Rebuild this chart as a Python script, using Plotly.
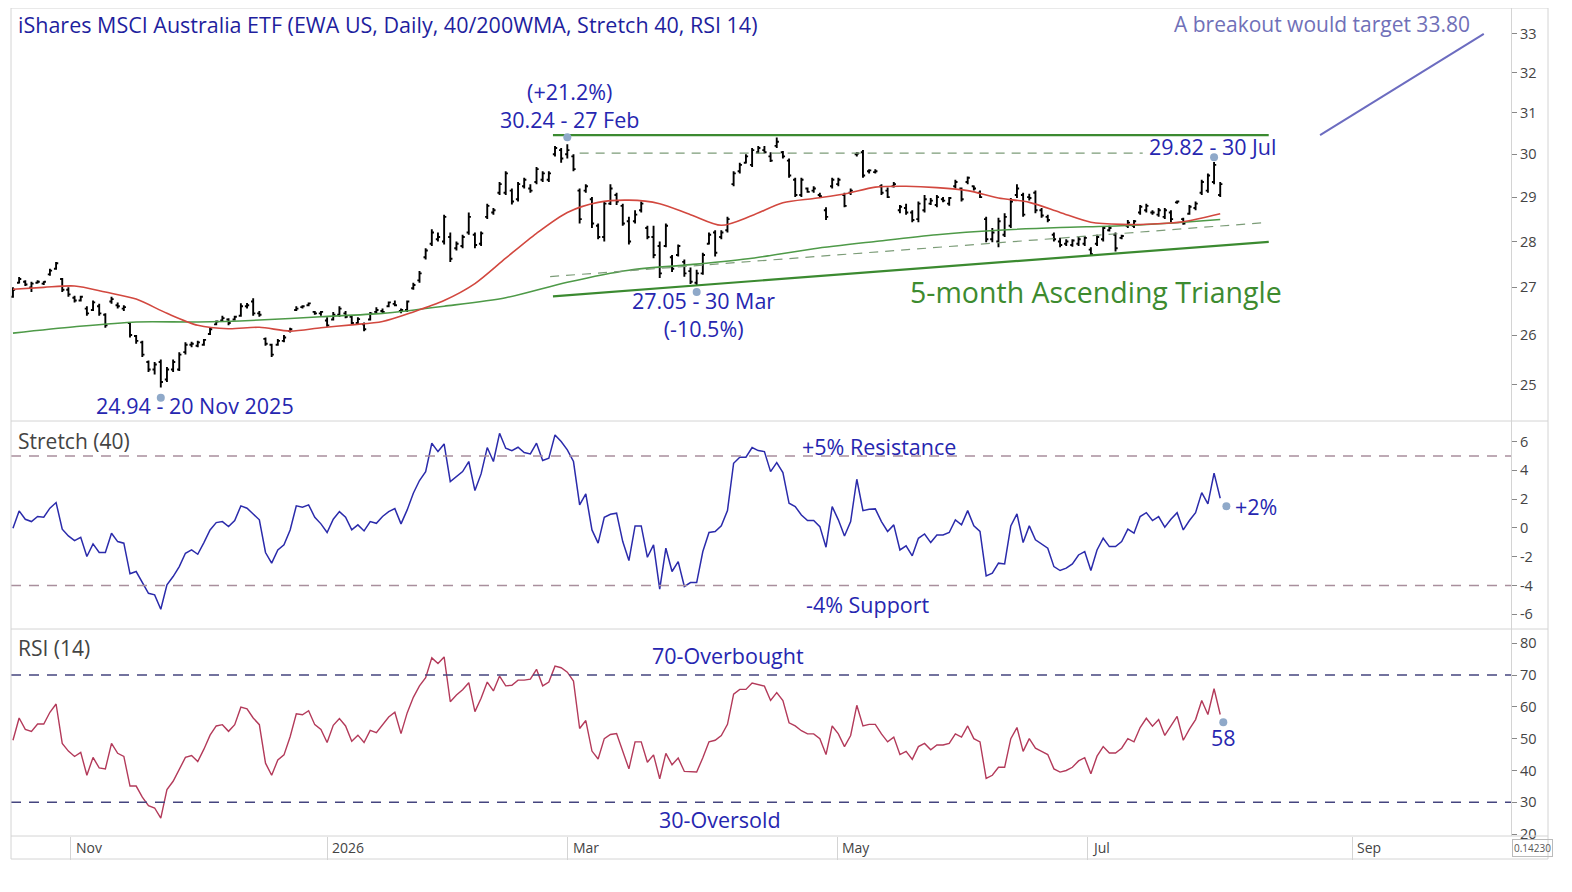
import pandas as pd
import plotly.graph_objects as go
from plotly.subplots import make_subplots

# trading calendar: weekends and US exchange holidays are skipped on the axis
HOLIDAYS = ["2025-11-27", "2025-12-25", "2026-01-01", "2026-01-19", "2026-02-16",
            "2026-04-03", "2026-05-25", "2026-06-19", "2026-07-03", "2026-09-07"]
days = pd.bdate_range("2025-10-17", "2026-07-31", freq="C", holidays=HOLIDAYS)

open_px = [
    26.8, 27.1, 27.12, 27.0, 27.1, 27.08, 27.28, 27.4, 27.18, 26.95,
    26.78, 26.72, 26.55, 26.52, 26.6, 26.42, 26.7, 26.62, 26.55, 26.25,
    25.98, 25.85, 25.45, 25.3, 25.45, 25.1, 25.3, 25.3, 25.65, 25.8,
    25.78, 25.8, 26.02, 26.22, 26.3, 26.32, 26.32, 26.4, 26.6, 26.7,
    26.45, 25.92, 25.8, 25.8, 25.88, 26.08, 26.52, 26.58, 26.62, 26.48,
    26.45, 26.3, 26.32, 26.42, 26.45, 26.38, 26.25, 26.22, 26.32, 26.48,
    26.5, 26.6, 26.65, 26.5, 26.52, 26.98, 27.15, 27.65, 27.95, 28.05,
    28.0, 28.1, 27.85, 27.9, 28.2, 28.15, 27.95, 28.55, 28.65, 29.1,
    29.1, 29.15, 28.95, 29.25, 29.2, 29.35, 29.4, 29.4, 30.0, 30.1,
    30.0, 29.95, 29.15, 29.15, 28.95, 28.35, 28.1, 28.85, 29.05, 28.8,
    28.45, 28.45, 28.7, 28.3, 28.1, 27.9, 27.9, 27.65, 27.7, 27.55,
    27.35, 27.1, 27.3, 27.95, 28.2, 28.1, 28.25, 29.3, 29.6, 29.8,
    29.75, 30.05, 30.1, 29.95, 30.2, 30.05, 29.85, 29.4, 29.05, 29.2,
    29.15, 29.05, 28.7, 29.25, 29.3, 29.05, 29.1, 30.0, 30.05, 29.6,
    29.58, 29.25, 29.15, 29.25, 28.7, 28.75, 28.65, 28.5, 28.7, 28.85,
    28.82, 28.95, 28.85, 29.25, 29.2, 29.35, 29.25, 29.1, 28.5, 28.05,
    28.0, 28.15, 28.35, 29.05, 29.05, 29.0, 29.1, 28.7, 28.55, 28.15,
    28.0, 27.95, 27.92, 27.95, 27.95, 27.82, 27.95, 28.05, 28.25, 28.15,
    28.08, 28.35, 28.35, 28.65, 28.7, 28.65, 28.6, 28.55, 28.65, 28.88,
    28.5, 28.62, 28.75, 29.1, 29.15, 29.35, 29.05,
]
high_px = [
    27.0, 27.22, 27.15, 27.12, 27.15, 27.13, 27.4, 27.55, 27.2, 27.0,
    26.82, 26.82, 26.6, 26.72, 26.65, 26.45, 26.8, 26.68, 26.62, 26.27,
    26.0, 25.88, 25.48, 25.45, 25.5, 25.35, 25.5, 25.65, 25.85, 25.86,
    25.88, 25.92, 26.15, 26.3, 26.4, 26.35, 26.4, 26.66, 26.67, 26.77,
    26.5, 25.95, 25.82, 25.92, 26.0, 26.15, 26.6, 26.62, 26.68, 26.5,
    26.5, 26.37, 26.48, 26.6, 26.5, 26.4, 26.37, 26.26, 26.48, 26.58,
    26.55, 26.7, 26.72, 26.55, 26.72, 27.1, 27.35, 27.85, 28.27, 28.2,
    28.6, 28.2, 28.0, 28.15, 28.65, 28.2, 28.22, 28.85, 28.75, 29.35,
    29.6, 29.2, 29.35, 29.45, 29.3, 29.7, 29.6, 29.6, 30.2, 30.15,
    30.24, 30.0, 29.2, 29.3, 29.0, 28.4, 28.9, 29.3, 29.1, 28.85,
    28.55, 28.7, 28.9, 28.35, 28.35, 28.0, 28.4, 27.7, 27.93, 27.6,
    27.43, 27.38, 27.75, 28.2, 28.25, 28.25, 28.55, 29.6, 29.8, 30.0,
    30.15, 30.2, 30.2, 30.05, 30.4, 30.08, 29.9, 29.45, 29.45, 29.22,
    29.25, 29.1, 28.77, 29.45, 29.45, 29.1, 29.2, 30.05, 30.1, 29.65,
    29.65, 29.3, 29.22, 29.35, 28.82, 28.85, 28.7, 28.9, 29.05, 28.98,
    29.05, 29.0, 29.0, 29.4, 29.22, 29.48, 29.27, 29.15, 28.55, 28.3,
    28.53, 28.63, 28.98, 29.3, 29.1, 29.08, 29.15, 28.75, 28.6, 28.2,
    28.08, 28.05, 28.05, 28.1, 28.12, 27.87, 28.15, 28.33, 28.35, 28.2,
    28.15, 28.48, 28.48, 28.82, 28.85, 28.7, 28.75, 28.75, 28.7, 28.92,
    28.53, 28.82, 28.9, 29.4, 29.55, 29.82, 29.35,
]
low_px = [
    26.78, 27.08, 27.03, 26.9, 27.08, 27.05, 27.25, 27.38, 26.9, 26.8,
    26.68, 26.7, 26.4, 26.5, 26.4, 26.15, 26.65, 26.55, 26.5, 25.95,
    25.82, 25.55, 25.25, 25.2, 24.94, 25.05, 25.25, 25.27, 25.6, 25.75,
    25.75, 25.78, 26.0, 26.2, 26.27, 26.2, 26.3, 26.38, 26.55, 26.4,
    26.38, 25.78, 25.55, 25.78, 25.85, 26.05, 26.5, 26.55, 26.6, 26.42,
    26.4, 26.17, 26.3, 26.38, 26.35, 26.23, 26.23, 26.08, 26.3, 26.45,
    26.45, 26.58, 26.6, 26.45, 26.48, 26.95, 27.1, 27.6, 27.9, 28.0,
    27.93, 27.55, 27.8, 27.85, 28.15, 27.85, 27.9, 28.5, 28.6, 29.05,
    29.05, 28.83, 28.9, 29.2, 29.1, 29.3, 29.35, 29.35, 29.95, 29.8,
    29.9, 29.6, 28.4, 29.1, 28.3, 28.05, 28.0, 28.82, 28.82, 28.35,
    27.93, 28.4, 28.65, 28.05, 27.63, 27.2, 27.87, 27.33, 27.67, 27.23,
    27.07, 27.05, 27.27, 27.93, 27.67, 28.05, 28.2, 29.25, 29.55, 29.78,
    29.7, 30.02, 30.02, 29.82, 30.15, 29.9, 29.45, 29.0, 29.0, 29.1,
    29.1, 28.98, 28.48, 29.2, 29.25, 28.77, 29.05, 29.95, 29.45, 29.55,
    29.55, 29.05, 28.98, 29.22, 28.63, 28.6, 28.43, 28.43, 28.65, 28.82,
    28.77, 28.88, 28.8, 29.2, 28.9, 29.3, 29.15, 28.98, 27.98, 27.98,
    27.87, 28.1, 28.3, 28.98, 28.55, 28.92, 28.63, 28.53, 28.43, 28.0,
    27.87, 27.9, 27.88, 27.9, 27.9, 27.68, 27.9, 28.0, 28.22, 27.78,
    28.05, 28.3, 28.3, 28.6, 28.65, 28.6, 28.55, 28.5, 28.43, 28.85,
    28.37, 28.6, 28.7, 29.05, 29.1, 29.3, 29.0,
]
close_px = [
    26.95, 27.18, 27.06, 27.08, 27.12, 27.12, 27.36, 27.52, 26.95, 26.85,
    26.72, 26.8, 26.45, 26.68, 26.45, 26.2, 26.75, 26.6, 26.58, 26.0,
    25.88, 25.6, 25.3, 25.4, 25.05, 25.3, 25.45, 25.6, 25.8, 25.82,
    25.85, 25.9, 26.12, 26.28, 26.35, 26.25, 26.38, 26.6, 26.62, 26.45,
    26.42, 25.82, 25.6, 25.88, 25.95, 26.12, 26.55, 26.6, 26.66, 26.45,
    26.48, 26.2, 26.42, 26.55, 26.38, 26.25, 26.33, 26.12, 26.45, 26.52,
    26.48, 26.68, 26.62, 26.52, 26.7, 27.05, 27.3, 27.8, 28.2, 28.1,
    28.55, 27.62, 27.95, 28.1, 28.55, 27.92, 28.18, 28.8, 28.7, 29.3,
    29.55, 28.9, 29.3, 29.4, 29.15, 29.65, 29.55, 29.55, 30.15, 29.9,
    30.1, 29.65, 28.5, 29.25, 28.4, 28.1, 28.85, 29.2, 28.9, 28.4,
    28.0, 28.6, 28.85, 28.1, 27.7, 27.3, 28.35, 27.4, 27.9, 27.3,
    27.12, 27.3, 27.7, 28.15, 27.75, 28.2, 28.5, 29.55, 29.75, 29.95,
    30.1, 30.15, 30.05, 29.85, 30.3, 29.95, 29.5, 29.05, 29.4, 29.12,
    29.2, 29.02, 28.55, 29.4, 29.4, 28.8, 29.15, 30.02, 29.5, 29.62,
    29.6, 29.1, 29.0, 29.3, 28.78, 28.65, 28.48, 28.85, 28.95, 28.92,
    29.0, 28.92, 28.98, 29.35, 28.95, 29.45, 29.2, 29.0, 28.05, 28.2,
    28.45, 28.55, 28.9, 29.2, 28.6, 28.98, 28.7, 28.58, 28.48, 28.05,
    27.92, 28.0, 28.02, 28.05, 28.08, 27.72, 28.1, 28.3, 28.3, 27.85,
    28.12, 28.42, 28.45, 28.78, 28.8, 28.65, 28.7, 28.7, 28.5, 28.9,
    28.4, 28.78, 28.85, 29.35, 29.5, 29.75, 29.3,
]

# moving averages
ma40_dates = [
    "2025-10-17", "2025-10-24", "2025-10-31", "2025-11-07", "2025-11-14", "2025-11-21",
    "2025-12-01", "2025-12-08", "2025-12-15", "2025-12-22", "2025-12-30", "2026-01-07",
    "2026-01-14", "2026-01-22", "2026-01-29", "2026-02-05", "2026-02-12", "2026-02-20",
    "2026-02-27", "2026-03-06", "2026-03-13", "2026-03-20", "2026-03-27", "2026-04-06",
    "2026-04-13", "2026-04-20", "2026-04-27", "2026-05-04", "2026-05-11", "2026-05-18",
    "2026-05-26", "2026-06-02", "2026-06-09", "2026-06-16", "2026-06-24", "2026-07-01",
    "2026-07-09", "2026-07-16", "2026-07-23", "2026-07-31",
]
ma40 = [
    26.96, 27.0, 27.03, 26.9, 26.75, 26.45, 26.2, 26.13, 26.16, 26.08,
    26.15, 26.21, 26.28, 26.48, 26.72, 27.08, 27.63, 28.18, 28.65, 28.88,
    28.93, 28.85, 28.6, 28.36, 28.58, 28.87, 28.97, 29.07, 29.23, 29.25,
    29.22, 29.15, 28.98, 28.88, 28.65, 28.43, 28.38, 28.39, 28.44, 28.62,
]
ma200_dates = [
    "2025-10-17", "2025-10-31", "2025-11-14", "2025-12-01", "2025-12-15", "2025-12-30",
    "2026-01-14", "2026-01-29", "2026-02-12", "2026-02-27", "2026-03-13", "2026-03-27",
    "2026-04-13", "2026-04-27", "2026-05-11", "2026-05-26", "2026-06-09", "2026-06-24",
    "2026-07-09", "2026-07-23", "2026-07-31",
]
ma200 = [
    26.04, 26.17, 26.27, 26.27, 26.31, 26.38, 26.45, 26.6, 26.78, 27.11,
    27.37, 27.49, 27.63, 27.84, 28.0, 28.15, 28.25, 28.31, 28.35, 28.43, 28.49,
]

stretch = [
    -0.02, 1.18, 0.6, 0.44, 0.79, 0.74, 1.37, 1.76, -0.09, -0.56,
    -0.88, -0.65, -1.99, -1.11, -1.71, -1.71, -0.37, -0.95, -1.06, -3.19,
    -3.03, -3.84, -4.54, -4.65, -5.65, -3.96, -3.38, -2.69, -1.76, -1.53,
    -1.83, -1.02, -0.14, 0.37, 0.44, 0.09, 0.51, 1.53, 1.37, 0.97,
    0.56, -1.71, -2.45, -1.53, -1.18, -0.14, 1.53, 1.44, 1.6, 0.74,
    0.28, -0.32, 0.6, 1.13, 0.74, -0.14, 0.21, -0.21, 0.44, 0.32,
    0.79, 1.13, 1.34, 0.28, 1.25, 2.41, 3.29, 3.91, 5.88, 5.3,
    5.83, 3.22, 3.56, 3.91, 4.61, 2.59, 3.75, 5.58, 4.61, 6.57,
    5.53, 5.37, 5.6, 5.23, 5.14, 5.88, 4.68, 4.84, 6.46, 6.0,
    5.42, 4.61, 1.6, 2.36, -0.14, -1.06, 0.74, 0.95, 1.02, -0.95,
    -2.27, 0.14, 0.14, -2.04, -1.18, -4.26, -1.41, -3.03, -2.34, -4.07,
    -3.8, -3.8, -1.64, -0.32, -0.25, 0.14, 1.2, 4.49, 4.91, 4.91,
    5.58, 5.37, 5.3, 3.91, 4.54, 3.84, 1.71, 1.48, 0.9, 0.51,
    0.51, 0.09, -1.34, 1.48, 0.56, -0.56, 0.44, 3.38, 1.2, 1.3,
    1.32, 0.44, -0.25, 0.21, -1.53, -1.25, -1.94, -0.72, -0.42, -1.02,
    -0.49, -0.49, -0.32, 0.56, 0.21, 1.2, 0.14, -0.25, -3.33, -3.15,
    -2.45, -2.5, 0.14, 0.97, -1.02, 0.14, -0.83, -1.11, -1.41, -2.69,
    -2.96, -2.8, -2.5, -1.88, -1.64, -2.96, -1.53, -0.72, -1.3, -1.3,
    -0.95, -0.09, -0.37, 0.79, 1.06, 0.51, 0.79, 0.05, 0.6, 1.06,
    -0.14, 0.51, 1.06, 2.45, 1.67, 3.8, 2.06,
]
rsi = [
    49.5, 56.5, 52.9, 52.3, 54.6, 54.6, 58.3, 60.9, 48.5, 46.1,
    44.4, 45.7, 38.5, 44.1, 40.8, 40.5, 48.5, 45.4, 44.4, 35.1,
    35.1, 31.6, 28.9, 28.2, 25.0, 34.0, 36.6, 40.5, 44.1, 44.7,
    42.8, 46.7, 51.1, 54.0, 54.4, 52.3, 54.4, 59.9, 59.4, 56.5,
    54.4, 42.3, 38.5, 43.3, 44.9, 50.6, 57.8, 57.5, 58.8, 54.4,
    52.9, 48.8, 54.2, 56.3, 54.0, 49.2, 51.1, 48.8, 52.6, 51.9,
    54.4, 56.8, 58.3, 51.6, 58.1, 63.0, 66.6, 69.2, 75.4, 73.6,
    75.7, 61.6, 63.7, 65.4, 67.6, 58.5, 62.7, 67.8, 65.0, 69.7,
    66.6, 66.8, 68.4, 68.4, 68.7, 71.8, 66.6, 67.8, 72.8, 72.3,
    70.9, 68.1, 53.2, 55.7, 46.1, 43.6, 50.0, 51.3, 51.6, 46.1,
    40.5, 49.0, 49.0, 42.6, 44.9, 37.4, 45.4, 41.8, 43.9, 39.7,
    39.7, 39.5, 44.0, 49.0, 49.5, 51.0, 54.5, 64.0, 65.5, 65.5,
    67.5, 67.0, 66.5, 62.0, 64.5, 62.0, 55.0, 54.0, 52.5, 51.5,
    51.5, 50.0, 45.0, 54.0, 51.5, 47.5, 51.0, 60.5, 54.0, 54.5,
    54.5, 51.5, 49.0, 50.5, 45.0, 46.0, 43.5, 47.5, 48.5, 46.5,
    48.0, 48.0, 48.5, 51.5, 50.5, 54.0, 50.0, 49.0, 37.5, 38.5,
    41.0, 41.0, 50.0, 53.5, 46.0, 50.0, 47.0, 46.0, 45.0, 40.5,
    39.5, 40.0, 41.0, 43.0, 44.0, 39.0, 44.5, 47.5, 45.5, 45.5,
    47.0, 50.0, 49.0, 53.5, 56.4, 53.9, 56.0, 51.0, 54.0, 57.0,
    49.5, 53.0, 56.0, 62.0, 57.6, 65.7, 57.6,
]
assert len(days) == len(open_px) == len(high_px) == len(low_px) == len(close_px)
assert len(days) == len(stretch) == len(rsi)

# drawn pattern lines (date, price)
tri_top_x, tri_top_y = ["2026-02-24 16:00", "2026-08-11 21:00"], [30.46, 30.46]
tri_low_x, tri_low_y = ["2026-02-24 16:00", "2026-08-11 21:00"], [26.81, 27.99]
dash_top_x, dash_top_y = ["2026-03-03", "2026-07-14 10:00"], [30.03, 30.03]
dash_low_x, dash_low_y = ["2026-02-24 05:00", "2026-08-11 05:00"], [27.23, 28.42]
target_x, target_y = ["2026-08-24 05:00", "2026-09-30 19:00"], [30.46, 33.0]

# highlighted points
price_dot_x = ["2025-11-20", "2026-02-27", "2026-03-30", "2026-07-30"]
price_dot_y = [24.74, 30.41, 26.9, 29.93]
stretch_dot = ("2026-08-03", 1.5)
rsi_dot = ("2026-07-31 12:00", 55.2)

month_seps = ["2025-10-30 10:00", "2025-12-31 00:00", "2026-02-27 02:00",
              "2026-04-30 19:00", "2026-06-30 10:00", "2026-08-31 10:00"]
month_labels = ["Nov", "2026", "Mar", "May", "Jul", "Sep"]

# the page body adds an 8px margin, so the figure is sized to fit inside it
PAGE_OFF = 8
W, H = 1556, 876
L, T = 3, 0
PW, PH = 1500, 828
R, B = W - L - PW, H - T - PH
X0, Y1 = PAGE_OFF + L, PAGE_OFF + T + PH   # plot area left / bottom in page pixels


def px(x):
    return (x - X0) / PW


def py(y):
    return (Y1 - y) / PH


FONT = "Open Sans"
BLUE = "#2626b0"
GREY_TXT = "#444444"
FRAME = "#d4d4d4"

fig = make_subplots(rows=3, cols=1, shared_xaxes=True, vertical_spacing=0,
                    row_heights=[0.4994, 0.2509, 0.2497])

# price panel
fig.add_trace(go.Scatter(x=ma200_dates, y=ma200, mode="lines",
                         line=dict(color="#4e9a48", width=1.6, shape="spline", smoothing=0.8),
                         hoverinfo="skip"), row=1, col=1)
fig.add_trace(go.Scatter(x=ma40_dates, y=ma40, mode="lines",
                         line=dict(color="#d2483f", width=1.6, shape="spline", smoothing=0.8),
                         hoverinfo="skip"), row=1, col=1)
for lx, ly, dash, col, wd in [
    (dash_top_x, dash_top_y, "9px,7px", "#7c9c78", 1.2),
    (dash_low_x, dash_low_y, "9px,7px", "#7c9c78", 1.2),
    (tri_top_x, tri_top_y, "solid", "#3b8a30", 2.2),
    (tri_low_x, tri_low_y, "solid", "#3b8a30", 2.2),
    (target_x, target_y, "solid", "#6c6cc0", 2.0),
]:
    fig.add_trace(go.Scatter(x=lx, y=ly, mode="lines",
                             line=dict(color=col, width=wd, dash=dash),
                             hoverinfo="skip"), row=1, col=1)

fig.add_trace(go.Ohlc(x=days, open=open_px, high=high_px, low=low_px, close=close_px,
                      increasing=dict(line=dict(color="#000000", width=1.9)),
                      decreasing=dict(line=dict(color="#000000", width=1.9)),
                      tickwidth=0.35, hoverinfo="skip"), row=1, col=1)
fig.add_trace(go.Scatter(x=price_dot_x, y=price_dot_y, mode="markers",
                         marker=dict(color="#8fa9c9", size=8), hoverinfo="skip"),
              row=1, col=1)

# stretch panel
fig.add_trace(go.Scatter(x=days, y=stretch, mode="lines",
                         line=dict(color="#2b2bab", width=1.5), hoverinfo="skip"),
              row=2, col=1)
fig.add_trace(go.Scatter(x=[stretch_dot[0]], y=[stretch_dot[1]], mode="markers",
                         marker=dict(color="#8fa9c9", size=8), hoverinfo="skip"),
              row=2, col=1)
for lvl in (5, -4):
    fig.add_hline(y=lvl, row=2, col=1, line=dict(color="#a98f9d", width=1.5, dash="10px,8px"))

# RSI panel
fig.add_trace(go.Scatter(x=days, y=rsi, mode="lines",
                         line=dict(color="#b33a5a", width=1.4), hoverinfo="skip"),
              row=3, col=1)
fig.add_trace(go.Scatter(x=[rsi_dot[0]], y=[rsi_dot[1]], mode="markers",
                         marker=dict(color="#8fa9c9", size=8), hoverinfo="skip"),
              row=3, col=1)
for lvl in (70, 30):
    fig.add_hline(y=lvl, row=3, col=1, line=dict(color="#45457f", width=1.5, dash="10px,8px"))

# axes
fig.update_xaxes(type="date", range=["2025-10-16 16:20", "2026-10-07 05:00"],
                 rangebreaks=[dict(bounds=["sat", "mon"]), dict(values=HOLIDAYS)],
                 showgrid=False, zeroline=False, showline=False, ticks="",
                 showticklabels=False, rangeslider=dict(visible=False))
fig.update_xaxes(tickmode="array", tickvals=month_seps, ticks="outside", ticklen=23,
                 tickcolor=FRAME, tickwidth=1, showticklabels=False, row=3, col=1)

axis_common = dict(side="right", showgrid=False, zeroline=False, showline=True,
                   linecolor=FRAME, ticks="outside", ticklen=5, tickcolor="#888888",
                   tickfont=dict(family=FONT, size=14.5, color=GREY_TXT))
price_ticks = [25, 26, 27, 28, 29, 30, 31, 32, 33]
fig.update_yaxes(type="log", range=[1.38523, 1.52744], tickmode="array",
                 tickvals=price_ticks, ticktext=[str(v) for v in price_ticks],
                 row=1, col=1, **axis_common)
stretch_ticks = [-6, -4, -2, 0, 2, 4, 6]
fig.update_yaxes(range=[-7.04, 7.39], tickmode="array", tickvals=stretch_ticks,
                 ticktext=[str(v) for v in stretch_ticks], row=2, col=1, **axis_common)
rsi_ticks = [20, 30, 40, 50, 60, 70, 80]
fig.update_yaxes(range=[19.4, 84.4], tickmode="array", tickvals=rsi_ticks,
                 ticktext=[str(v) for v in rsi_ticks], row=3, col=1, **axis_common)

# frame and panel separators
right_px = px(1548)
fig.add_shape(type="rect", xref="paper", yref="paper", x0=0, x1=right_px, y0=py(859), y1=1,
              line=dict(color=FRAME, width=1))
for yy in (421, 629, 836):
    fig.add_shape(type="line", xref="paper", yref="paper", x0=0, x1=right_px,
                  y0=py(yy), y1=py(yy), line=dict(color=FRAME, width=1))


def note(text, x, y, size=21.5, color=BLUE, anchor="center"):
    fig.add_annotation(text=text, x=px(x), y=py(y), xref="paper", yref="paper",
                       xanchor=anchor, yanchor="middle", showarrow=False,
                       font=dict(family=FONT, size=size, color=color))


note("iShares MSCI Australia ETF (EWA US, Daily, 40/200WMA, Stretch 40, RSI 14)",
     16, 25, size=21.5, color="#1f1f9e", anchor="left")
note("A breakout would target 33.80", 1472, 24, size=21, color="#7070b8", anchor="right")
note("(+21.2%)<br>30.24 - 27 Feb", 569, 106)
note("24.94 - 20 Nov 2025", 195, 405)
note("27.05 - 30 Mar<br>(-10.5%)", 703, 314)
note("29.82 - 30 Jul", 1212, 147)
note("5-month Ascending Triangle", 1096, 292, size=28.5, color="#3d8b2f")
note("Stretch (40)", 16, 441, size=21, color=GREY_TXT, anchor="left")
note("+5% Resistance", 879, 446)
note("-4% Support", 868, 604)
note("+2%", 1233, 506, anchor="left")
note("RSI (14)", 16, 648, size=21, color=GREY_TXT, anchor="left")
note("70-Overbought", 728, 655)
note("30-Oversold", 720, 819)
note("58", 1223, 737)

for sep, lab in zip(month_seps, month_labels):
    fig.add_annotation(text=lab, x=sep, y=py(847), xref="x3", yref="paper",
                       xanchor="left", yanchor="middle", xshift=3, showarrow=False,
                       font=dict(family=FONT, size=14, color=GREY_TXT))

fig.add_annotation(text="0.14230", x=px(1512), y=py(848), xref="paper", yref="paper",
                   xanchor="left", yanchor="middle", showarrow=False,
                   bordercolor="#bbbbbb", borderwidth=1, borderpad=1,
                   font=dict(family=FONT, size=10, color="#555555"))

fig.update_layout(width=W, height=H, margin=dict(l=L, r=R, t=T, b=B),
                  paper_bgcolor="white", plot_bgcolor="white",
                  showlegend=False, hovermode=False)

fig.write_html("out.html")
